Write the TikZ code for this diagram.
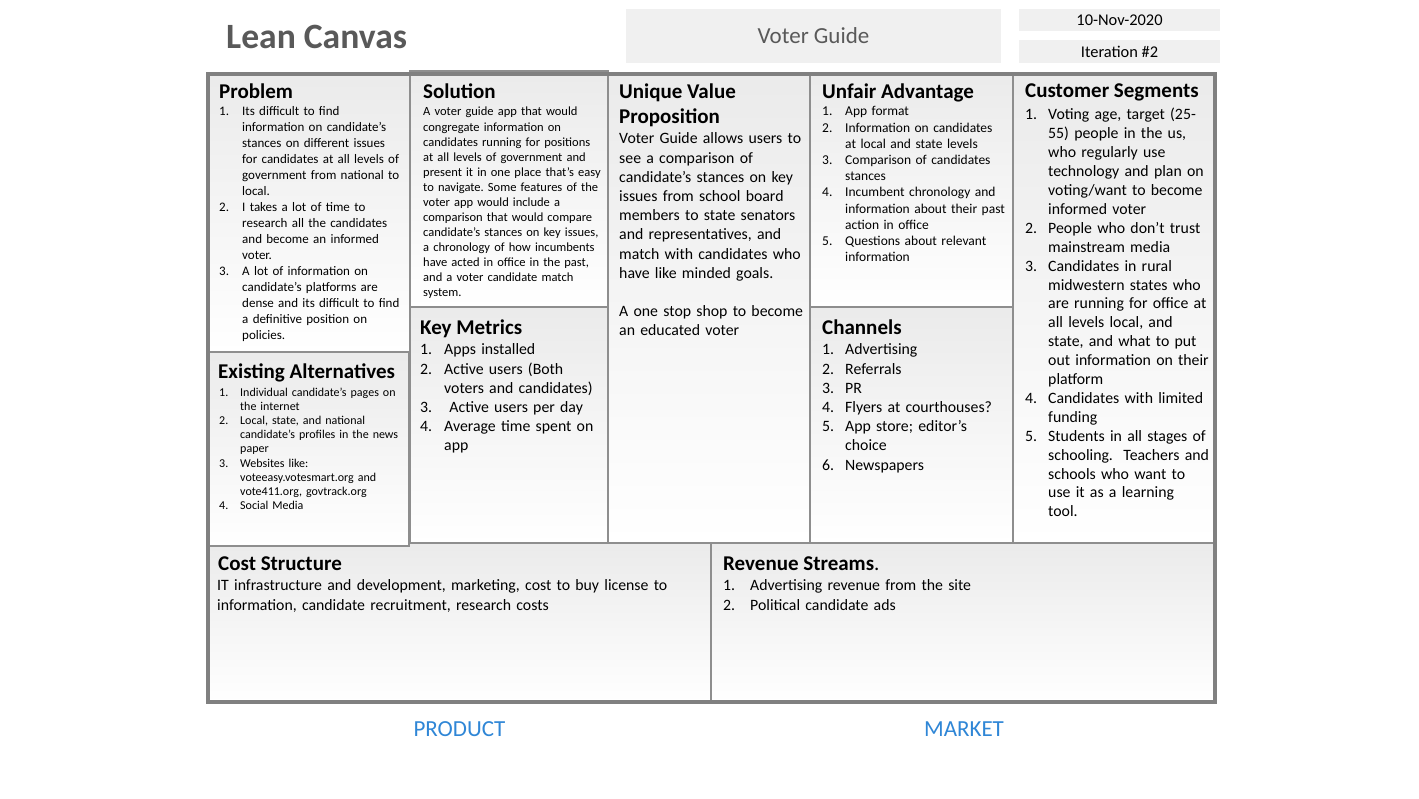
\documentclass[tikz,border=0pt]{standalone}
\usepackage{xcolor}
\usepackage{fontspec}
\setmainfont{Carlito}
\usepackage{tikz}
\usetikzlibrary{positioning}
\definecolor{canvasLine}{HTML}{808080}
\definecolor{cellLine}{HTML}{8E8E8E}
\definecolor{headFill}{HTML}{F0F0F0}
\definecolor{titleGray}{HTML}{595959}
\definecolor{sideBlue}{HTML}{2F86D6}
\newlength{\numw}
\newcommand{\nr}[1]{\makebox[\numw][l]{#1}}
\newcommand{\nx}{\hspace*{\numw}}
\frenchspacing

\begin{document}
\begin{tikzpicture}[x=1pt,y=-1pt,
  cell/.style={draw=cellLine,line width=1.6pt,top color=black!8,bottom color=white},
  hbox/.style={fill=headFill,inner sep=0pt},
  head/.style={anchor=base west,inner sep=0pt,font=\fontsize{21}{24}\selectfont\bfseries},
  body/.style 2 args={anchor=base west,inner sep=0pt,text width=230pt,align=left,font=\fontsize{#1}{#2}\selectfont},
  num/.style={execute at begin node=\setlength{\numw}{#1}}]
  \useasboundingbox (0,0) rectangle (1419,799);

  \node[anchor=base west,inner sep=0pt,text=titleGray,font=\fontsize{35.6}{40}\selectfont\bfseries] (title) at (226,48.5) {Lean Canvas};
  \node[hbox,minimum width=375pt,minimum height=54pt,text=titleGray,font=\fontsize{23}{26}\selectfont] (guide) at (813.5,36) {Voter Guide};
  \node[hbox,minimum width=201pt,minimum height=22pt,font=\fontsize{16.4}{19}\selectfont] (date) at (1119.5,20) {10-Nov-2020};
  \node[hbox,minimum width=201pt,minimum height=23pt,font=\fontsize{16.4}{19}\selectfont,below=9pt of date] (iter) {Iteration \#2};

  \foreach \xa/\ya/\xb/\yb in {208/74/410/352, 410/71/608/307, 608/74/810/543, 810/74/1013/307,
      1013/74/1215/543, 410/307/608/543, 810/307/1013/543, 208/543/711/702, 711/543/1215/702, 208/352/409/546}
    \draw[cell] (\xa,\ya) rectangle (\xb,\yb);
  \draw[canvasLine,line width=3.8pt] (208,74) rectangle (1215,702);

  \node[head] (probHead) at (219,99) {Problem};
  \node[body={13}{15.93},num=23pt] (probText) at (219,116) {%
    \nr{1.}Its difficult to find\\
    \nx information on candidate's\\
    \nx stances on different issues\\
    \nx for candidates at all levels of\\
    \nx government from national to\\
    \nx local.\\
    \nr{2.}I takes a lot of time to\\
    \nx research all the candidates\\
    \nx and become an informed\\
    \nx voter.\\
    \nr{3.}A lot of information on\\
    \nx candidate's platforms are\\
    \nx dense and its difficult to find\\
    \nx a definitive position on\\
    \nx policies.};

  \node[head] (solHead) at (423,99) {Solution};
  \node[body={12.5}{15.08}] (solText) at (423,116) {%
    A voter guide app that would\\
    congregate information on\\
    candidates running for positions\\
    at all levels of government and\\
    present it in one place that's easy\\
    to navigate. Some features of the\\
    voter app would include a\\
    comparison that would compare\\
    candidate's stances on key issues,\\
    a chronology of how incumbents\\
    have acted in office in the past,\\
    and a voter candidate match\\
    system.};

  \node[head] (uvpHead) at (619,99) {Unique Value};
  \node[head] (uvpHead2) at (619,124) {Proposition};
  \node[body={15.8}{19.2}] (uvpText) at (619,144) {%
    Voter Guide allows users to\\
    see a comparison of\\
    candidate's stances on key\\
    issues from school board\\
    members to state senators\\
    and representatives, and\\
    match with candidates who\\
    have like minded goals.\\[19.2pt]
    A one stop shop to become\\
    an educated voter};

  \node[head] (uaHead) at (822,99) {Unfair Advantage};
  \node[body={13.5}{16.2},num=23pt] (uaText) at (822,116) {%
    \nr{1.}App format\\
    \nr{2.}Information on candidates\\
    \nx at local and state levels\\
    \nr{3.}Comparison of candidates\\
    \nx stances\\
    \nr{4.}Incumbent chronology and\\
    \nx information about their past\\
    \nx action in office\\
    \nr{5.}Questions about relevant\\
    \nx information};

  \node[head] (csHead) at (1025,98) {Customer Segments};
  \node[body={15.8}{18.9},num=23pt] (csText) at (1025,120) {%
    \nr{1.}Voting age, target (25-\\
    \nx 55) people in the us,\\
    \nx who regularly use\\
    \nx technology and plan on\\
    \nx voting/want to become\\
    \nx informed voter\\
    \nr{2.}People who don't trust\\
    \nx mainstream media\\
    \nr{3.}Candidates in rural\\
    \nx midwestern states who\\
    \nx are running for office at\\
    \nx all levels local, and\\
    \nx state, and what to put\\
    \nx out information on their\\
    \nx platform\\
    \nr{4.}Candidates with limited\\
    \nx funding\\
    \nr{5.}Students in all stages of\\
    \nx schooling.\ \ Teachers and\\
    \nx schools who want to\\
    \nx use it as a learning\\
    \nx tool.};

  \node[head] (altHead) at (218,379) {Existing Alternatives};
  \node[body={12}{14.25},num=21pt] (altText) at (219,396) {%
    \nr{1.}Individual candidate's pages on\\
    \nx the internet\\
    \nr{2.}Local, state, and national\\
    \nx candidate's profiles in the news\\
    \nx paper\\
    \nr{3.}Websites like:\\
    \nx voteeasy.votesmart.org and\\
    \nx vote411.org, govtrack.org\\
    \nr{4.}Social Media};

  \node[head] (kmHead) at (420,335) {Key Metrics};
  \node[body={15.8}{19.2},num=24pt] (kmText) at (420,355) {%
    \nr{1.}Apps installed\\
    \nr{2.}Active users (Both\\
    \nx voters and candidates)\\
    \nr{3.}\ Active users per day\\
    \nr{4.}Average time spent on\\
    \nx app};

  \node[head] (chHead) at (822,335) {Channels};
  \node[body={15.8}{19.2},num=23pt] (chText) at (822,355) {%
    \nr{1.}Advertising\\
    \nr{2.}Referrals\\
    \nr{3.}PR\\
    \nr{4.}Flyers at courthouses?\\
    \nr{5.}App store; editor's\\
    \nx choice\\
    \nr{6.}Newspapers};

  \node[head] (costHead) at (218,570) {Cost Structure};
  \node[body={15.8}{20},text width=480pt] (costText) at (217,590) {%
    IT infrastructure and development, marketing, cost to buy license to\\
    information, candidate recruitment, research costs};

  \node[head] (revHead) at (723,570) {Revenue Streams\mdseries.};
  \node[body={15.8}{20},text width=480pt,num=27pt] (revText) at (723,590) {%
    \nr{1.}Advertising revenue from the site\\
    \nr{2.}Political candidate ads};

  \node[text=sideBlue,font=\fontsize{23}{26}\selectfont] (product) at (459.5,729) {PRODUCT};
  \node[text=sideBlue,font=\fontsize{23}{26}\selectfont] (market) at (964,729) {MARKET};
\end{tikzpicture}
\end{document}
